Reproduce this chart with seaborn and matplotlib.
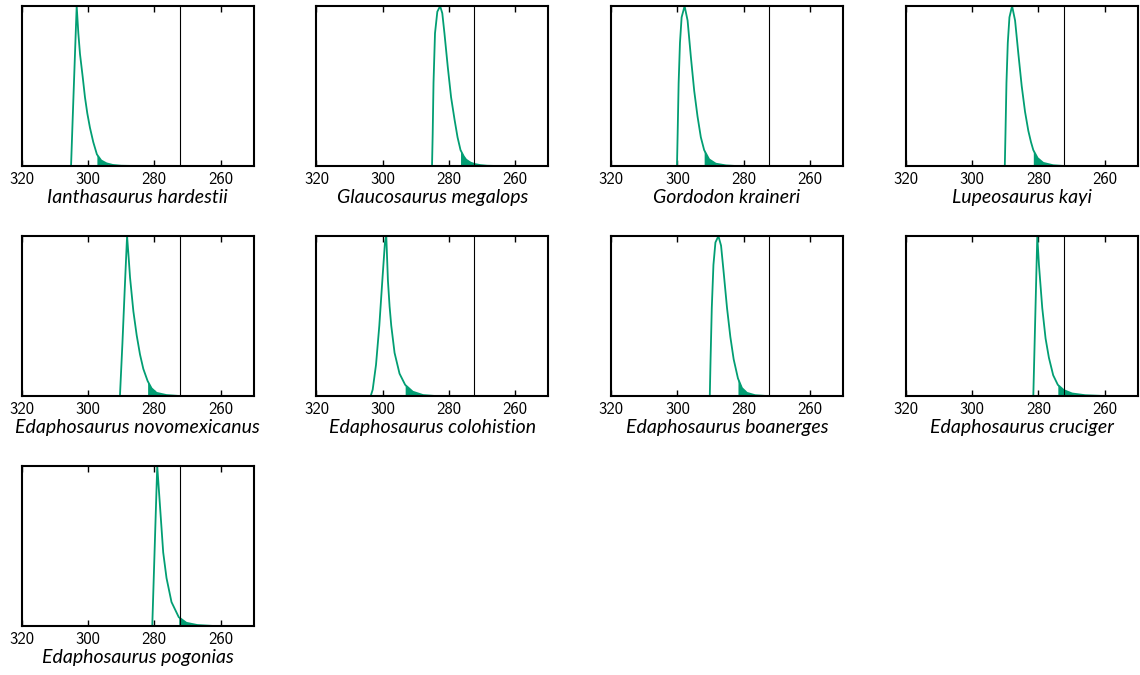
import pandas as pd
import matplotlib
matplotlib.use("Agg")
import matplotlib.pyplot as plt
import seaborn as sns

# relative densities of first-appearance ages (Ma)
species = ['Ianthasaurus hardestii', 'Glaucosaurus megalops', 'Gordodon kraineri',
           'Lupeosaurus kayi', 'Edaphosaurus novomexicanus', 'Edaphosaurus colohistion',
           'Edaphosaurus boanerges', 'Edaphosaurus cruciger', 'Edaphosaurus pogonias']

ianth_age = [312, 305.1, 304.6, 304.0, 303.4, 302.9, 302.4, 301.6, 300.9, 300.2, 299.4, 298.4,
             297.3, 296.0, 294.4, 292.5, 290.0, 285, 250]
ianth_dens = [0, 0, 0.3, 0.65, 1.0, 0.83, 0.70, 0.56, 0.43, 0.33, 0.24, 0.15,
              0.073, 0.035, 0.017, 0.007, 0.002, 0, 0]

glauc_age = [312, 285.1, 284.9, 284.65, 284.2, 283.5, 282.65, 282.0, 281.35, 280.35, 279.35,
             278.3, 277.4, 276.5, 275.5, 274.8, 273.5, 272.3, 270.5, 268.5, 265, 250]
glauc_dens = [0, 0, 0.2, 0.52, 0.83, 0.965, 1.0, 0.955, 0.83, 0.62, 0.43,
              0.29, 0.18, 0.10, 0.06, 0.04, 0.022, 0.013, 0.006, 0.002, 0, 0]

gordo_age = [312, 300.1, 299.9, 299.6, 299.2, 298.7, 297.8, 296.9, 295.9, 294.9, 293.9, 292.9,
             291.9, 290.4, 288.4, 285.3, 282, 250]
gordo_dens = [0, 0, 0.2, 0.52, 0.77, 0.93, 1.0, 0.91, 0.68, 0.47, 0.31, 0.18,
              0.10, 0.042, 0.015, 0.004, 0, 0]

lupeo_age = [312, 290.1, 289.9, 289.6, 289.2, 288.7, 287.9, 287.0, 286.0, 285.0, 284.0, 283.0,
             282.2, 281.5, 280.2, 278.5, 275.5, 272, 250]
lupeo_dens = [0, 0, 0.2, 0.52, 0.77, 0.93, 1.0, 0.91, 0.70, 0.50, 0.34, 0.22,
              0.15, 0.10, 0.05, 0.02, 0.005, 0, 0]

novo_age = [312, 290.35, 289.6, 288.9, 288.2, 287.7, 287.3, 286.3, 285.3, 284.3, 283.3, 282.0,
            280.8, 279.3, 276.3, 272.3, 250]
novo_dens = [0, 0, 0.33, 0.67, 1.0, 0.86, 0.74, 0.53, 0.38, 0.26, 0.17, 0.094,
             0.048, 0.02, 0.006, 0, 0]

colo_age = [312, 303.6, 303.0, 302.0, 301.0, 300.0, 299.3, 298.9, 298.4, 297.9, 297.4, 296.4,
            294.9, 293.2, 290.9, 287.8, 284, 250]
colo_dens = [0, 0, 0.04, 0.195, 0.44, 0.75, 0.96, 1.0, 0.72, 0.56, 0.44, 0.27,
             0.14, 0.07, 0.027, 0.006, 0, 0]

boan_age = [312, 290.2, 290.0, 289.6, 289.1, 288.5, 287.6, 286.8, 286.0, 285.0, 284.0, 283.0,
            281.7, 280.5, 279.0, 276.5, 273, 250]
boan_dens = [0, 0, 0.2, 0.55, 0.82, 0.96, 1.0, 0.94, 0.77, 0.55, 0.37, 0.23,
             0.11, 0.05, 0.02, 0.005, 0, 0]

cruc_age = [312, 281.5, 280.9, 280.3, 279.8, 278.8, 277.8, 276.8, 275.5, 274.1, 272.3, 269.8,
            265.8, 260, 250]
cruc_dens = [0, 0, 0.5, 1.0, 0.82, 0.55, 0.36, 0.24, 0.13, 0.07, 0.037, 0.016,
             0.005, 0, 0]

pogo_age = [312, 280.6, 279.85, 279.1, 278.3, 277.3, 276.3, 274.8, 272.6, 270.3, 267, 262, 250]
pogo_dens = [0, 0, 0.5, 1.0, 0.76, 0.46, 0.30, 0.15, 0.055, 0.02, 0.006, 0, 0]

# start of the shaded tail for each species
shade_from = [297.3, 276.5, 291.9, 281.5, 282.0, 293.2, 281.7, 274.1, 272.6]

boundary = 272.3
xticks = [320, 300, 280, 260]

ages = [ianth_age, glauc_age, gordo_age, lupeo_age, novo_age, colo_age, boan_age, cruc_age, pogo_age]
dens = [ianth_dens, glauc_dens, gordo_dens, lupeo_dens, novo_dens, colo_dens, boan_dens,
        cruc_dens, pogo_dens]

df = pd.concat([pd.DataFrame({'species': s, 'age': a, 'density': d})
                for s, a, d in zip(species, ages, dens)], ignore_index=True)
shade_lookup = dict(zip(species, shade_from))

sns.set_style("ticks", {'text.color': 'k', 'xtick.color': 'k', 'axes.labelcolor': 'k',
                        'axes.edgecolor': 'k'})
plt.rcParams['font.family'] = ['cmss10', 'DejaVu Sans']
plt.rcParams['axes.unicode_minus'] = False

green = sns.color_palette("colorblind")[2]


def draw_panel(data, **kws):
    ax = plt.gca()
    name = data['species'].iloc[0]
    sns.lineplot(data=data, x='age', y='density', ax=ax, color=green, lw=1.3, estimator=None)
    tail = data[data['age'] <= shade_lookup[name]]
    ax.fill_between(tail['age'], tail['density'], color=green, lw=0)
    ax.axvline(boundary, color='k', lw=0.8)


g = sns.FacetGrid(df, col='species', col_wrap=4, height=2.25, aspect=1.2667,
                  sharex=False, sharey=False, despine=False)
g.map_dataframe(draw_panel)
g.set_titles("")

for ax, name in zip(g.axes.flat, species):
    ax.set_xlim(320, 250)
    ax.set_ylim(0, 1.0)
    ax.set_xticks(xticks)
    ax.set_yticks([])
    ax.set_ylabel('')
    ax.set_xlabel(name, fontsize=14, fontstyle='italic', family=['Lato', 'DejaVu Sans'],
                  labelpad=2, color='k')
    ax.tick_params(axis='x', direction='in', top=True, length=4, width=1, labelsize=12, pad=4,
                   colors='k')
    for sp in ax.spines.values():
        sp.set_linewidth(1.5)
        sp.set_color('k')

g.figure.set_size_inches(11.4, 6.75)
g.figure.subplots_adjust(left=0.019, right=0.998, bottom=0.0726, top=0.991, wspace=0.27, hspace=0.4375)
g.figure.savefig('out.png', dpi=100)
